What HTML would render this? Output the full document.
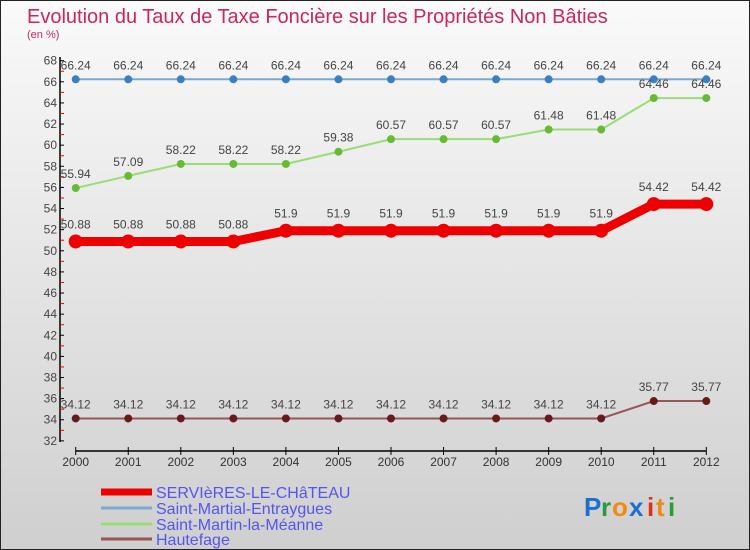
<!DOCTYPE html>
<html><head><meta charset="utf-8"><style>
body{margin:0}
#c{width:748px;height:548px;border:1px solid #222;background:linear-gradient(#fafafa,#cfcfcf);position:relative;overflow:hidden;font-family:"Liberation Sans",sans-serif}
</style></head><body>
<div id="c">
<svg width="748" height="548" xmlns="http://www.w3.org/2000/svg" id="svg">
<text x="26" y="22" font-size="20" fill="#c8285a">Evolution du Taux de Taxe Foncière sur les Propriétés Non Bâties</text>
<text x="26" y="37" font-size="11" fill="#c8285a">(en %)</text>
<g id="axes"></g>
<g id="series"></g>
<g id="legend"></g>
<g font-size="26" font-weight="bold">
<text x="583" y="515" fill="#1a6fd0">P</text><text x="600" y="515" fill="#2a9a3a">r</text><text x="611" y="515" fill="#f08a10">o</text><text x="628" y="515" fill="#1a6fd0">x</text><text x="646" y="515" fill="#e03010">i</text><text x="655" y="515" fill="#f08a10">t</text><text x="667" y="515" fill="#2a9a3a">i</text>
</g>
</svg>
</div>
<script>
const years=["2000","2001","2002","2003","2004","2005","2006","2007","2008","2009","2010","2011","2012"];
const serv=[50.88,50.88,50.88,50.88,51.9,51.9,51.9,51.9,51.9,51.9,51.9,54.42,54.42];
const stMartial=[66.24,66.24,66.24,66.24,66.24,66.24,66.24,66.24,66.24,66.24,66.24,66.24,66.24];
const stMartin=[55.94,57.09,58.22,58.22,58.22,59.38,60.57,60.57,60.57,61.48,61.48,64.46,64.46];
const hautefage=[34.12,34.12,34.12,34.12,34.12,34.12,34.12,34.12,34.12,34.12,34.12,35.77,35.77];
const yTicks=[32,34,36,38,40,42,44,46,48,50,52,54,56,58,60,62,64,66,68];
const seriesNames=["SERVIèRES-LE-CHâTEAU","Saint-Martial-Entraygues","Saint-Martin-la-Méanne","Hautefage"];
const NS="http://www.w3.org/2000/svg";
const x=i=>74.7+i*52.55;
const y=v=>59.7+(68-v)*10.56;
function mk(tag,attrs,parent,txt){const e=document.createElementNS(NS,tag);for(const k in attrs)e.setAttribute(k,attrs[k]);if(txt!==undefined)e.textContent=txt;parent.appendChild(e);return e;}
const ax=document.getElementById('axes');
let e=mk('line',{x1:59,y1:56,x2:59,y2:441,stroke:'#000','stroke-width':1.5},ax);


yTicks.forEach(t=>{
 mk('line',{x1:59,x2:63,y1:y(t),y2:y(t),stroke:'#000'},ax);
 if(t<68)mk('line',{x1:59,x2:63,y1:y(t+1),y2:y(t+1),stroke:'#e00'},ax);
 let l=mk('text',{x:56,y:y(t)+4,'font-size':12,fill:'#444','text-anchor':'end'},ax,String(t));
 
 
});
e=mk('line',{x1:x(0),y1:450,x2:x(12),y2:450,stroke:'#000','stroke-width':1.5},ax);


years.forEach((yr,i)=>{
 mk('line',{x1:x(i),x2:x(i),y1:446,y2:454,stroke:'#000'},ax);
 let l=mk('text',{x:x(i),y:465,'font-size':12,fill:'#333','text-anchor':'middle'},ax,yr);
 
 
});
const sg=document.getElementById('series');
const defs=[[stMartial,'#7aaad0','#3a80c0',2,4,'saint-martial'],[stMartin,'#99dd77','#66bb33',2,4,'saint-martin'],[hautefage,'#995555','#661a1a',2,4,'hautefage'],[serv,'#ee0000','#ee0000',9,7,'servieres']];
defs.forEach(([d,lc,mc,w,r,n])=>{
 let p=mk('polyline',{points:d.map((v,i)=>x(i)+','+y(v)).join(' '),fill:'none',stroke:lc,'stroke-width':w},sg);
 
 
 d.forEach((v,i)=>{
  let c=mk('circle',{cx:x(i),cy:y(v),r:r,fill:mc},sg);
  
  
  let t=mk('text',{x:x(i),y:y(v)-(r+6),'font-size':12,fill:'#444','text-anchor':'middle'},sg,String(v));
  
  
 });
});
const lg=document.getElementById('legend');
const lcols=['#ee0000','#7aaad0','#99dd77','#995555'],lw=[7,3,3,3],ly=[491,507,523,538];
seriesNames.forEach((s,i)=>{
 mk('line',{x1:100,x2:151,y1:ly[i],y2:ly[i],stroke:lcols[i],'stroke-width':lw[i]},lg);
 let t=mk('text',{x:155,y:ly[i]+6,'font-size':16,fill:'#5555ee'},lg,s);
 
 
});
</script>
</body></html>
